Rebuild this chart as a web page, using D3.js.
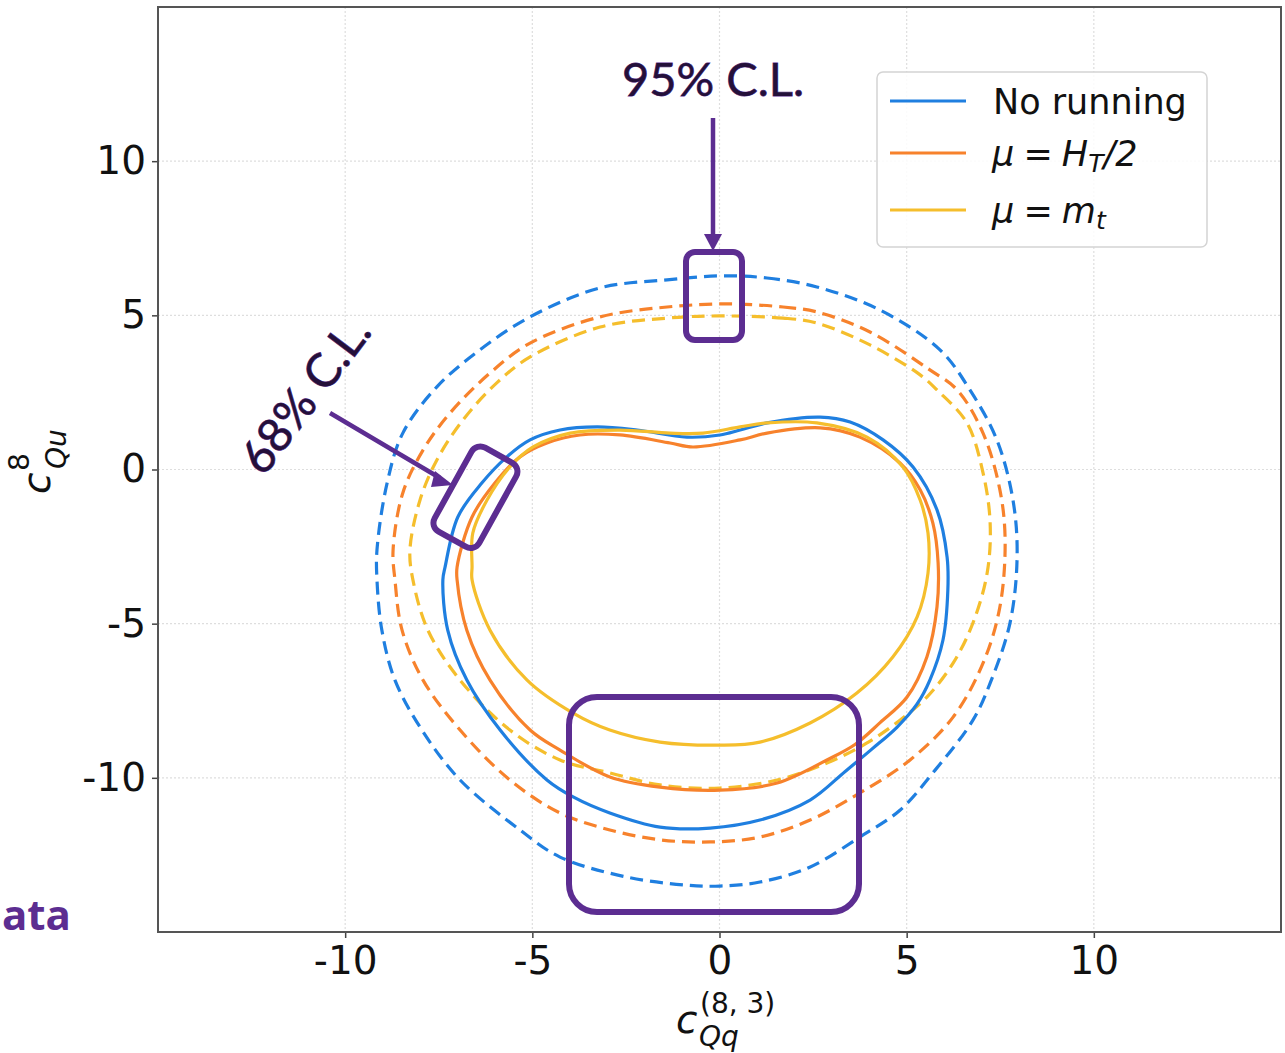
<!DOCTYPE html>
<html><head><meta charset="utf-8">
<script src="https://cdn.jsdelivr.net/npm/d3@7"></script>
<style>
html,body{margin:0;padding:0;background:#fff;}
svg{display:block;}
</style></head>
<body>
<svg id="chart" width="1285" height="1053"></svg>
<script>
// ---------- DATA ----------
const xTicks = [-10, -5, 0, 5, 10];
const yTicks = [-10, -5, 0, 5, 10];
const xTickLabels = ["-10", "-5", "0", "5", "10"];
const yTickLabels = ["-10", "-5", "0", "5", "10"];
const seriesNames = ["No running", "μ = H_T/2", "μ = m_t"];
const seriesColors = ["#1f7fe0", "#f7822c", "#f5be2c"];

// 95% C.L. contours (dashed)
const blueDashed = [[0.01,6.28],[1.27,6.21],[2.60,5.92],[4.29,5.17],[5.89,3.88],[6.69,2.58],[7.41,0.96],[7.84,-0.99],[7.95,-2.84],[7.76,-4.98],[7.23,-6.93],[6.77,-8.13],[5.76,-9.75],[4.82,-11.05],[3.75,-11.92],[2.41,-12.90],[1.08,-13.38],[0.01,-13.51],[-0.87,-13.48],[-2.47,-13.22],[-4.26,-12.57],[-5.33,-11.69],[-6.93,-10.07],[-7.95,-8.45],[-8.67,-6.83],[-9.02,-5.21],[-9.15,-3.58],[-9.15,-2.61],[-8.88,-0.44],[-8.46,1.18],[-7.55,2.68],[-6.40,3.88],[-5.06,4.95],[-3.19,5.89],[-1.40,6.15]];
const orangeDashed = [[0.20,5.37],[1.70,5.27],[2.60,5.11],[4.02,4.46],[5.62,3.23],[6.35,2.58],[7.04,1.18],[7.49,-0.66],[7.63,-2.29],[7.49,-4.46],[7.04,-6.28],[6.24,-8.03],[5.09,-9.42],[3.75,-10.49],[2.42,-11.37],[1.08,-11.92],[-0.25,-12.08],[-1.59,-12.01],[-2.93,-11.69],[-4.26,-11.14],[-5.60,-10.07],[-6.93,-8.45],[-7.92,-6.83],[-8.48,-5.21],[-8.67,-3.58],[-8.72,-2.61],[-8.46,-0.76],[-7.92,0.63],[-7.20,1.83],[-6.13,3.13],[-5.06,4.10],[-3.19,4.95],[-1.40,5.27]];
const yellowDashed = [[0.01,4.98],[1.70,4.91],[2.60,4.75],[4.02,4.04],[5.36,3.07],[5.81,2.58],[6.61,1.51],[7.04,-0.11],[7.23,-1.74],[7.15,-3.36],[6.77,-4.98],[6.24,-6.28],[5.54,-7.38],[4.82,-8.13],[3.94,-8.87],[2.87,-9.52],[1.54,-10.07],[0.01,-10.33],[-1.59,-10.23],[-2.93,-9.84],[-4.26,-9.42],[-5.60,-8.45],[-6.93,-6.83],[-7.79,-5.21],[-8.19,-3.58],[-8.27,-2.61],[-8.00,-0.99],[-7.55,0.31],[-6.85,1.61],[-5.95,2.81],[-5.06,3.65],[-3.19,4.62],[-1.40,4.91]];

// 68% C.L. contours (solid)
const blueSolid = [[-6.35,-0.44],[-5.68,0.41],[-5.06,0.96],[-4.26,1.28],[-3.27,1.38],[-2.20,1.28],[-0.87,1.05],[0.01,1.12],[0.55,1.28],[1.27,1.51],[2.69,1.70],[3.49,1.54],[4.37,0.96],[5.17,0.08],[5.81,-1.31],[6.08,-2.84],[6.10,-3.91],[5.97,-5.53],[5.62,-6.83],[5.27,-7.62],[4.74,-8.36],[4.07,-9.07],[3.35,-9.80],[2.42,-10.72],[1.08,-11.37],[-0.25,-11.63],[-1.59,-11.60],[-2.93,-11.14],[-3.91,-10.62],[-4.61,-10.07],[-5.86,-8.45],[-6.75,-6.83],[-7.26,-5.21],[-7.39,-3.58],[-7.33,-3.16],[-6.99,-1.54]];
const orangeSolid = [[-6.00,-0.44],[-5.33,0.41],[-4.61,0.86],[-3.73,1.12],[-2.66,1.12],[-1.32,0.86],[-0.71,0.73],[0.55,0.96],[1.27,1.18],[2.69,1.35],[3.75,1.05],[4.82,0.21],[5.36,-0.66],[5.70,-1.74],[5.84,-3.03],[5.81,-4.46],[5.54,-6.08],[5.01,-7.38],[4.29,-8.21],[3.62,-8.92],[2.87,-9.42],[1.54,-10.17],[0.01,-10.40],[-1.59,-10.30],[-2.93,-9.97],[-4.26,-9.10],[-5.06,-8.45],[-6.13,-6.83],[-6.75,-5.21],[-7.01,-3.58],[-7.01,-3.16],[-6.61,-1.54]];
const yellowSolid = [[-6.21,-0.99],[-5.60,0.08],[-4.98,0.73],[-3.99,1.18],[-2.66,1.28],[-1.32,1.18],[-0.44,1.18],[0.55,1.38],[1.27,1.51],[2.60,1.51],[3.94,1.05],[4.90,0.08],[5.36,-0.99],[5.57,-2.06],[5.57,-3.36],[5.28,-4.78],[4.63,-6.08],[3.67,-7.25],[2.42,-8.22],[1.08,-8.84],[0.01,-8.94],[-1.59,-8.84],[-2.93,-8.45],[-3.91,-7.90],[-5.14,-6.83],[-6.13,-5.21],[-6.61,-3.58],[-6.61,-3.16],[-6.59,-2.06]];

// ---------- LAYOUT ----------
const svg = d3.select("#chart");
const L = 158, R = 1281, T = 7, B = 932;
const x = d3.scaleLinear().domain([-15, 15]).range([L, R]);
const y = d3.scaleLinear().domain([-15, 15]).range([B, T]);
const purple = "#5c2d91";

// grid
const grid = svg.append("g");
grid.selectAll("line.gx").data(xTicks).join("line")
  .attr("x1", d => x(d)).attr("x2", d => x(d)).attr("y1", T).attr("y2", B)
  .attr("stroke", "#dedede").attr("stroke-width", 1.2).attr("stroke-dasharray", "2,2");
grid.selectAll("line.gy").data(yTicks).join("line")
  .attr("y1", d => y(d)).attr("y2", d => y(d)).attr("x1", L).attr("x2", R)
  .attr("stroke", "#dedede").attr("stroke-width", 1.2).attr("stroke-dasharray", "2,2");

// contours
const line = d3.line().x(d => x(d[0])).y(d => y(d[1])).curve(d3.curveCatmullRomClosed.alpha(0.5));
const contours = [
  {data: blueDashed, c: 0, dash: true},
  {data: orangeDashed, c: 1, dash: true},
  {data: yellowDashed, c: 2, dash: true},
  {data: blueSolid, c: 0, dash: false},
  {data: orangeSolid, c: 1, dash: false},
  {data: yellowSolid, c: 2, dash: false}
];
svg.append("g").selectAll("path").data(contours).join("path")
  .attr("d", d => line(d.data))
  .attr("fill", "none")
  .attr("stroke", d => seriesColors[d.c])
  .attr("stroke-width", 3.2)
  .attr("stroke-dasharray", d => d.dash ? "13,7" : null);

// axes
const xAxis = d3.axisBottom(x).tickValues(xTicks).tickSize(6).tickPadding(8).tickFormat((d, i) => xTickLabels[i]);
const yAxis = d3.axisLeft(y).tickValues(yTicks).tickSize(6).tickPadding(6).tickFormat((d, i) => yTickLabels[i]);
const gx = svg.append("g").attr("transform", `translate(0,${B})`).call(xAxis);
const gy = svg.append("g").attr("transform", `translate(${L},0)`).call(yAxis);
[gx, gy].forEach(g => {
  g.select(".domain").remove();
  g.selectAll(".tick line").attr("stroke", "#444").attr("stroke-width", 1.5);
  g.selectAll(".tick text").attr("font-family", "DejaVu Sans").attr("font-size", 39).attr("fill", "#111");
});
gx.selectAll(".tick text").attr("dy", "0.71em");

// frame
svg.append("rect").attr("x", L).attr("y", T).attr("width", R - L).attr("height", B - T)
  .attr("fill", "none").attr("stroke", "#555").attr("stroke-width", 2);

// axis labels
const xl = svg.append("g").attr("font-family", "DejaVu Sans").attr("fill", "#111");
xl.append("text").attr("x", 676).attr("y", 1033).attr("font-size", 39).attr("font-style", "italic").text("c");
xl.append("text").attr("x", 700).attr("y", 1013).attr("font-size", 28).text("(8, 3)");
xl.append("text").attr("x", 699).attr("y", 1046).attr("font-size", 28).attr("font-style", "italic").text("Qq");

const yl = svg.append("g").attr("transform", "translate(50,494) rotate(-90)").attr("font-family", "DejaVu Sans").attr("fill", "#111");
yl.append("text").attr("x", 0).attr("y", 0).attr("font-size", 39).attr("font-style", "italic").text("c");
yl.append("text").attr("x", 23).attr("y", -21).attr("font-size", 28).text("8");
yl.append("text").attr("x", 25).attr("y", 16).attr("font-size", 28).attr("font-style", "italic").text("Qu");

// legend
const lg = svg.append("g");
lg.append("rect").attr("x", 877).attr("y", 72).attr("width", 330).attr("height", 175).attr("rx", 6)
  .attr("fill", "#fff").attr("fill-opacity", 0.85).attr("stroke", "#d4d4d4").attr("stroke-width", 1.5);
const legY = [101, 153, 210];
seriesNames.forEach((n, i) => {
  lg.append("line").attr("x1", 890).attr("x2", 966).attr("y1", legY[i]).attr("y2", legY[i])
    .attr("stroke", seriesColors[i]).attr("stroke-width", 3.2);
});
const lt = lg.append("g").attr("font-family", "DejaVu Sans").attr("font-size", 35).attr("fill", "#111");
lt.append("text").attr("x", 993).attr("y", legY[0] + 13).text(seriesNames[0]);
const t2 = lt.append("text").attr("x", 992).attr("y", legY[1] + 13);
t2.append("tspan").attr("font-style", "italic").text("μ");
t2.append("tspan").attr("dx", -2).text(" = ");
t2.append("tspan").attr("font-style", "italic").attr("dx", -2).text("H");
t2.append("tspan").attr("font-style", "italic").attr("font-size", 25).attr("dy", 6).text("T");
t2.append("tspan").attr("font-style", "italic").attr("dy", -6).text("/2");
const t3 = lt.append("text").attr("x", 992).attr("y", legY[2] + 13);
t3.append("tspan").attr("font-style", "italic").text("μ");
t3.append("tspan").attr("dx", -2).text(" = ");
t3.append("tspan").attr("font-style", "italic").attr("dx", -2).text("m");
t3.append("tspan").attr("font-style", "italic").attr("font-size", 25).attr("dy", 6).text("t");

// annotations
const ann = svg.append("g");
ann.append("text").attr("x", 713).attr("y", 96).attr("text-anchor", "middle")
  .attr("font-family", "Lato").attr("font-size", 47).attr("fill", "#24103a")
  .attr("stroke", purple).attr("stroke-width", 0.8).attr("paint-order", "stroke").text("95% C.L.");
ann.append("line").attr("x1", 713).attr("x2", 713).attr("y1", 118).attr("y2", 238)
  .attr("stroke", purple).attr("stroke-width", 4.5);
ann.append("path").attr("d", "M704,234 L722,234 L713,251 Z").attr("fill", purple);
ann.append("rect").attr("x", 686).attr("y", 252).attr("width", 56).attr("height", 88).attr("rx", 9)
  .attr("fill", "none").attr("stroke", purple).attr("stroke-width", 6);

ann.append("text").attr("transform", "translate(304,394) rotate(-53)").attr("text-anchor", "middle")
  .attr("dominant-baseline", "central")
  .attr("font-family", "Lato").attr("font-size", 47).attr("fill", "#24103a")
  .attr("stroke", purple).attr("stroke-width", 0.8).attr("paint-order", "stroke").text("68% C.L.");
ann.append("line").attr("x1", 330).attr("y1", 413).attr("x2", 440).attr("y2", 478)
  .attr("stroke", purple).attr("stroke-width", 4.5);
ann.append("path").attr("d", "M435,471 L453,485 L431,487 Z").attr("fill", purple);
ann.append("rect").attr("transform", "translate(475,497) rotate(29)")
  .attr("x", -25).attr("y", -48).attr("width", 51).attr("height", 96).attr("rx", 10)
  .attr("fill", "none").attr("stroke", purple).attr("stroke-width", 6);

ann.append("rect").attr("x", 569).attr("y", 697).attr("width", 290).attr("height", 215).attr("rx", 28)
  .attr("fill", "none").attr("stroke", purple).attr("stroke-width", 6);

svg.append("text").attr("x", 2).attr("y", 930).attr("font-family", "Open Sans").attr("font-weight", "bold")
  .attr("font-size", 42).attr("fill", purple).text("ata");
</script>
</body></html>
